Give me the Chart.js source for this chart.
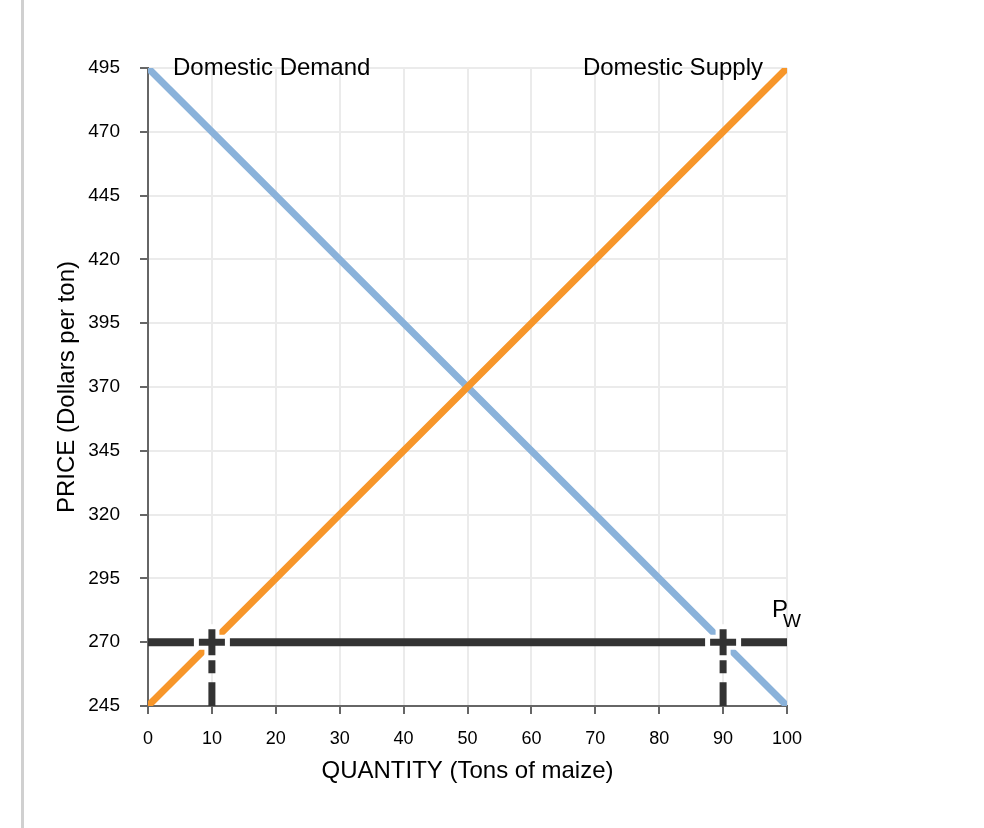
<!DOCTYPE html>
<html>
<head>
<meta charset="utf-8">
<title>Maize market at the world price</title>
<script src="https://cdn.jsdelivr.net/npm/chart.js@4.4.1/dist/chart.umd.min.js"></script>
<style>
  html, body { margin: 0; padding: 0; background: #fff; }
  #wrap { position: relative; width: 984px; height: 828px; }
  #leftRule { position: absolute; left: 21px; top: 0; width: 3px; height: 828px; background: #d0d0d0; }
  canvas { position: absolute; left: 0; top: 0; }
</style>
</head>
<body>
<div id="wrap">
  <div id="leftRule"></div>
  <canvas id="marketChart" width="984" height="828"></canvas>
</div>
<script>
// quantity (tons of maize) and the two domestic curves
const quantities = [0, 10, 20, 30, 40, 50, 60, 70, 80, 90, 100];
const demandPrices = [495, 470, 445, 420, 395, 370, 345, 320, 295, 270, 245];
const supplyPrices = [245, 270, 295, 320, 345, 370, 395, 420, 445, 470, 495];

// world price and the quantities where it meets supply / demand
const worldPrice = 270;
const worldQuantities = [10, 90];

// axis ranges
const priceMin = 245, priceMax = 495, priceStep = 25;
const quantityMin = 0, quantityMax = 100, quantityStep = 10;

const FONT = "'Liberation Sans', Arial, Helvetica, sans-serif";
const BLUE = '#8ab2da';
const ORANGE = '#f7962a';
const DARK = '#333333';

const toPoints = (xs, ys) => xs.map((q, i) => ({ x: q, y: ys[i] }));

// text next to the curves, placed from the curve ends through the scales
const curveLabelPlugin = {
   id: 'curveLabels',
   afterDatasetsDraw(chart) {
      const { ctx, scales: { x, y } } = chart;
      ctx.save();
      ctx.fillStyle = '#000';
      ctx.textBaseline = 'alphabetic';
      ctx.font = '24px ' + FONT;

      ctx.textAlign = 'left';
      ctx.fillText('Domestic Demand', x.getPixelForValue(quantities[0]) + 25, y.getPixelForValue(demandPrices[0]) + 7);

      ctx.textAlign = 'right';
      const last = quantities.length - 1;
      ctx.fillText('Domestic Supply', x.getPixelForValue(quantities[last]) - 24, y.getPixelForValue(supplyPrices[last]) + 7);

      // P with subscript W
      const px = x.getPixelForValue(quantityMax) - 15;
      const py = y.getPixelForValue(worldPrice) - 25;
      ctx.textAlign = 'left';
      ctx.fillText('P', px, py);
      ctx.font = '19px ' + FONT;
      ctx.fillText('W', px + 11, py + 10);
      ctx.restore();
   }
};

const ctx = document.getElementById('marketChart').getContext('2d');
new Chart(ctx, {
   type: 'line',
   data: {
      datasets: [
         // crosses at the world price (drawn on top)
         {
            data: worldQuantities.map(q => ({ x: q, y: worldPrice })),
            showLine: false,
            pointStyle: 'cross',
            pointRadius: 13,
            pointBorderWidth: 7,
            pointBorderColor: DARK,
            pointBackgroundColor: DARK,
            order: 0
         },
         // white halo behind the crosses
         {
            data: worldQuantities.map(q => ({ x: q, y: worldPrice })),
            showLine: false,
            pointStyle: 'cross',
            pointRadius: 18,
            pointBorderWidth: 15,
            pointBorderColor: '#ffffff',
            pointBackgroundColor: '#ffffff',
            order: 1
         },
         {
            label: 'Domestic Supply',
            data: toPoints(quantities, supplyPrices),
            borderColor: ORANGE,
            borderWidth: 7,
            pointRadius: 0,
            order: 2
         },
         {
            label: 'Domestic Demand',
            data: toPoints(quantities, demandPrices),
            borderColor: BLUE,
            borderWidth: 7,
            pointRadius: 0,
            order: 3
         },
         {
            label: 'World price',
            data: [{ x: quantityMin, y: worldPrice }, { x: quantityMax, y: worldPrice }],
            borderColor: DARK,
            borderWidth: 8,
            pointRadius: 0,
            order: 4
         },
         // drop lines to the quantity axis
         ...worldQuantities.map(q => ({
            data: [{ x: q, y: worldPrice }, { x: q, y: priceMin }],
            borderColor: DARK,
            borderWidth: 7,
            borderDash: [31, 9],
            pointRadius: 0,
            clip: 0,
            order: 5
         }))
      ]
   },
   options: {
      responsive: false,
      animation: false,
      events: [],
      layout: { padding: { left: 49, top: 68, right: 197, bottom: 38 } },
      plugins: {
         legend: { display: false },
         tooltip: { enabled: false }
      },
      scales: {
         x: {
            type: 'linear',
            min: quantityMin,
            max: quantityMax,
            ticks: { stepSize: quantityStep, color: '#000', font: { family: FONT, size: 18 }, padding: 14, maxRotation: 0 },
            grid: { color: '#ebebeb', lineWidth: 2, tickColor: '#666', tickLength: 8 },
            border: { color: '#666', width: 2 },
            title: { display: true, text: 'QUANTITY (Tons of maize)', color: '#000', font: { family: FONT, size: 24 }, padding: { top: 4, bottom: 4 } },
            afterFit(scale) { scale.height = 84; }
         },
         y: {
            type: 'linear',
            min: priceMin,
            max: priceMax,
            ticks: { stepSize: priceStep, color: '#000', font: { family: FONT, size: 19 }, padding: 20 },
            grid: { color: '#ebebeb', lineWidth: 2, tickColor: '#666', tickLength: 8 },
            border: { color: '#666', width: 2 },
            title: { display: true, text: 'PRICE (Dollars per ton)', color: '#000', font: { family: FONT, size: 24 }, padding: { top: 4, bottom: 4 } },
            afterFit(scale) { scale.width = 99; }
         }
      }
   },
   plugins: [curveLabelPlugin]
});
</script>
</body>
</html>
